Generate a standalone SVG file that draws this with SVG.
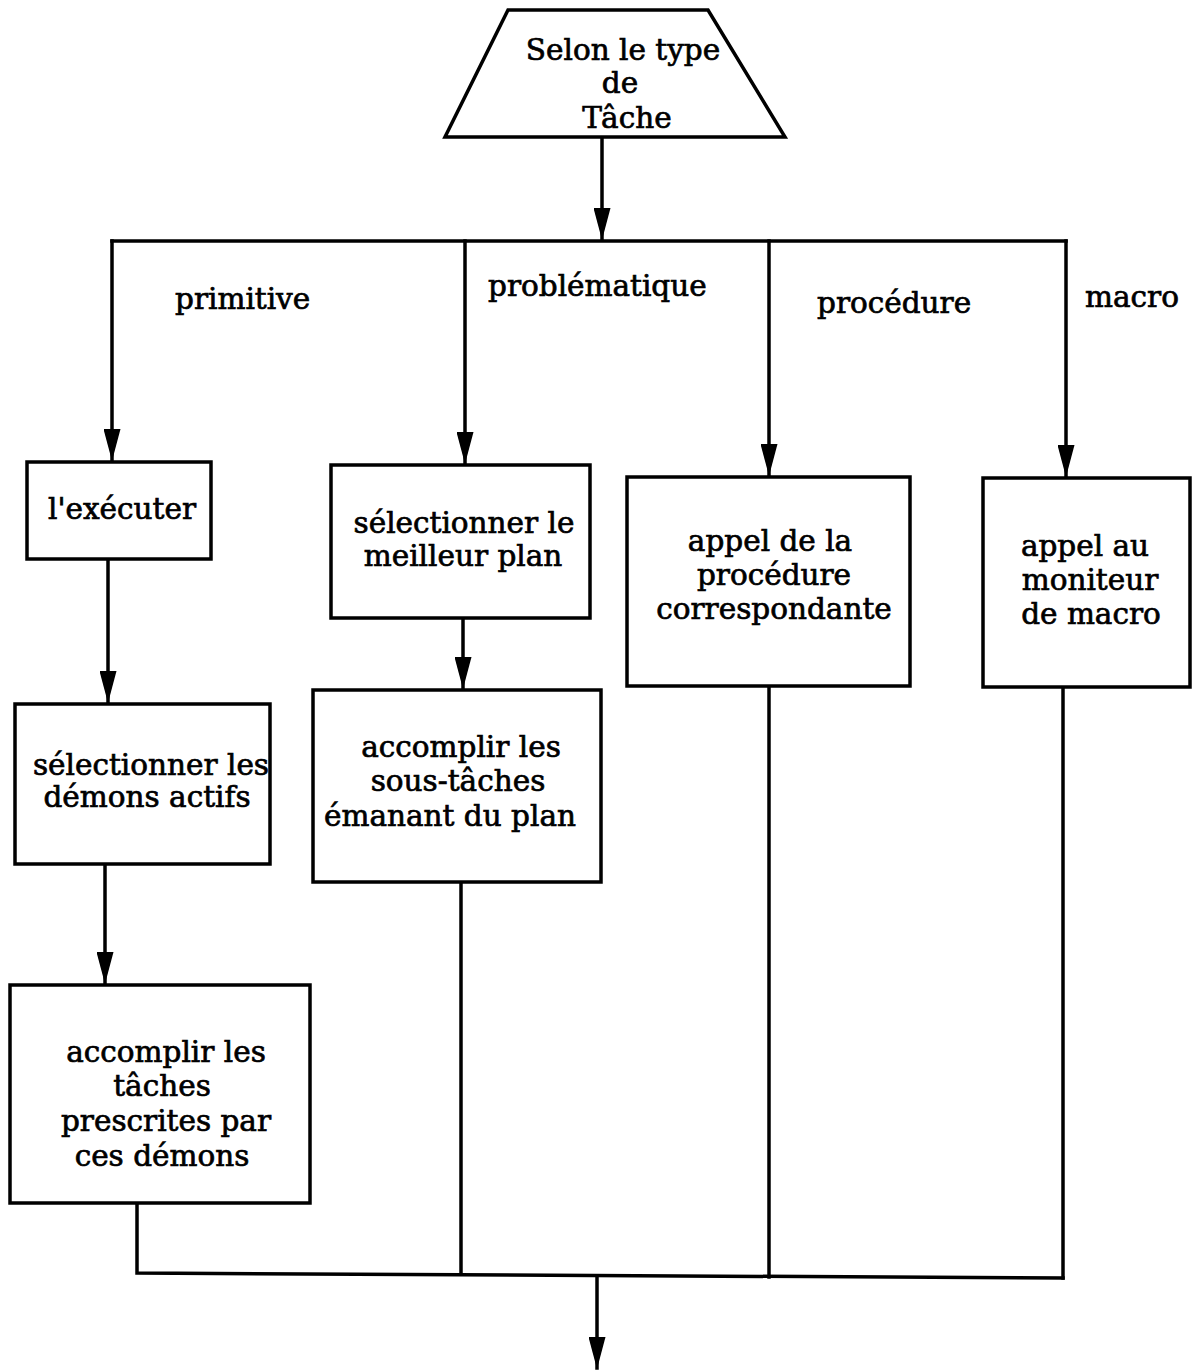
<svg xmlns="http://www.w3.org/2000/svg" width="1192" height="1371" viewBox="0 0 1192 1371">
<style>
.box{fill:#fff;stroke:#000;stroke-width:3.5}
.ln{fill:none;stroke:#000;stroke-width:3.5;stroke-linejoin:miter;stroke-linecap:square}
text{font-family:"DejaVu Serif","Liberation Serif",serif;font-size:29.5px;fill:#000;stroke:#000;stroke-width:0.7;text-anchor:middle}
.lbl{text-anchor:start}
</style>
<defs>
<marker id="ah" markerUnits="userSpaceOnUse" markerWidth="32" markerHeight="17" refX="31" refY="8.5" orient="auto">
<path d="M0,0 L32,8.5 L0,17 z" fill="#000"/>
</marker>
</defs>
<g id="connectors">
<path class="ln" d="M602,137 V239" marker-end="url(#ah)"/>
<path class="ln" d="M112,241 H1066"/>
<path class="ln" d="M112,241 V460" marker-end="url(#ah)"/>
<path class="ln" d="M465,241 V463" marker-end="url(#ah)"/>
<path class="ln" d="M769,241 V475" marker-end="url(#ah)"/>
<path class="ln" d="M1066,241 V476" marker-end="url(#ah)"/>
<path class="ln" d="M108,559 V702" marker-end="url(#ah)"/>
<path class="ln" d="M463,618 V688" marker-end="url(#ah)"/>
<path class="ln" d="M105,864 V983" marker-end="url(#ah)"/>
<path class="ln" d="M137,1203 V1273 L1063,1278"/>
<path class="ln" d="M461,882 V1274"/>
<path class="ln" d="M769,686 V1277"/>
<path class="ln" d="M1063,687 V1278"/>
<path class="ln" d="M597,1276 V1368" marker-end="url(#ah)"/>
<text class="lbl" x="175" y="309">primitive</text>
<text class="lbl" x="488" y="296">problématique</text>
<text class="lbl" x="817" y="313">procédure</text>
<text class="lbl" x="1085" y="307">macro</text>
</g>
<g id="start">
<polygon class="box" points="508,10 708,10 785,137 445,137"/>
<text x="623" y="60">Selon le type</text>
<text x="620" y="93">de</text>
<text x="627" y="128">Tâche</text>
</g>
<g id="executer">
<rect class="box" x="27" y="462" width="184" height="97"/>
<text x="122" y="519">l'exécuter</text>
</g>
<g id="selplan">
<rect class="box" x="331" y="465" width="259" height="153"/>
<text x="464" y="533">sélectionner le</text>
<text x="463" y="566">meilleur plan</text>
</g>
<g id="appelproc">
<rect class="box" x="627" y="477" width="283" height="209"/>
<text x="770" y="551">appel de la</text>
<text x="774" y="585">procédure</text>
<text x="774" y="619">correspondante</text>
</g>
<g id="appelmacro">
<rect class="box" x="983" y="478" width="207" height="209"/>
<text x="1085" y="556">appel au</text>
<text x="1090" y="590">moniteur</text>
<text x="1091" y="624">de macro</text>
</g>
<g id="seldemons">
<rect class="box" x="15" y="704" width="255" height="160"/>
<text x="151" y="775">sélectionner les</text>
<text x="147" y="807">démons actifs</text>
</g>
<g id="soustaches">
<rect class="box" x="313" y="690" width="288" height="192"/>
<text x="461" y="757">accomplir les</text>
<text x="458" y="791">sous-tâches</text>
<text x="450" y="826">émanant du plan</text>
</g>
<g id="taches">
<rect class="box" x="10" y="985" width="300" height="218"/>
<text x="166" y="1062">accomplir les</text>
<text x="162" y="1096">tâches</text>
<text x="166" y="1131">prescrites par</text>
<text x="162" y="1166">ces démons</text>
</g>
</svg>
